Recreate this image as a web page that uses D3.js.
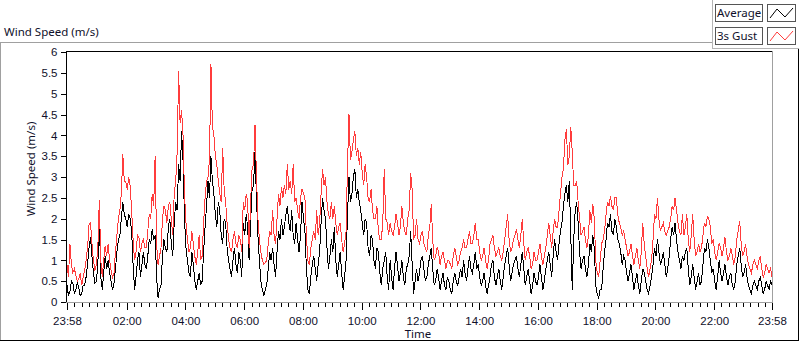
<!DOCTYPE html>
<html>
<head>
<meta charset="utf-8">
<script src="https://cdn.jsdelivr.net/npm/d3@7"></script>
<style>
  body { margin: 0; background: #fff; }
  svg { display: block; font-family: "Noto Sans", "Open Sans", sans-serif; }
  .lbl { font-size: 11.5px; fill: #10102a; }
</style>
</head>
<body>
<svg id="chart" width="800" height="342"></svg>
<script>
// 3-minute samples from 23:58 to 23:58 next day (481 points), one row per hour
var avgSpeed = [
  0.4, 0.15, 0.25, 0.5, 0.45, 0.2, 0.3, 0.45, 0.35, 0.15, 0.2, 0.4, 0.4, 0.6, 0.9, 1.3, 1.55, 1.1, 0.7, 0.45,
  0.5, 0.9, 2.0, 0.6, 0.3, 0.7, 1.1, 0.8, 1.0, 0.7, 0.5, 0.3, 0.45, 0.8, 1.2, 1.5, 1.6, 2.0, 2.4, 2.1,
  2.0, 1.8, 2.1, 2.0, 1.7, 0.9, 0.3, 0.6, 1.0, 1.2, 0.6, 0.9, 1.2, 0.9, 0.8, 1.1, 1.5, 1.4, 1.75, 1.5,
  1.6, 0.6, 0.1, 0.3, 0.4, 1.1, 1.5, 1.3, 1.2, 1.8, 2.0, 1.4, 1.1, 1.9, 2.4, 2.2, 3.3, 2.9, 4.1, 3.4,
  2.0, 1.3, 1.0, 0.7, 0.6, 1.2, 0.9, 0.5, 0.3, 0.5, 0.7, 0.4, 0.5, 1.2, 1.8, 2.3, 2.9, 2.5, 3.5, 2.9,
  2.6, 2.1, 1.8, 2.4, 2.2, 1.6, 1.4, 2.0, 1.9, 1.3, 1.0, 0.8, 0.6, 1.0, 1.3, 0.9, 0.7, 1.2, 1.0, 0.6,
  1.9, 1.6, 2.1, 1.8, 1.0, 1.9, 2.7, 2.8, 3.6, 2.5, 1.6, 1.0, 0.5, 0.3, 0.15, 0.3, 0.4, 0.8, 1.2, 1.0,
  1.3, 0.9, 0.6, 1.2, 1.7, 1.5, 2.0, 1.6, 1.8, 2.1, 2.3, 1.9, 1.7, 2.2, 1.6, 1.4, 1.9, 1.5, 1.2, 1.6,
  2.4, 2.0, 1.7, 0.8, 0.3, 0.2, 0.6, 0.9, 1.1, 0.8, 0.5, 0.9, 1.2, 1.9, 2.5, 2.2, 2.0, 1.3, 0.8, 1.1,
  1.5, 1.2, 1.8, 1.0, 0.6, 0.9, 1.2, 0.7, 0.3, 0.6, 1.0, 2.1, 3.0, 2.4, 2.6, 3.0, 3.2, 2.5, 2.7, 2.4,
  2.2, 1.9, 1.6, 2.0, 1.9, 1.3, 1.1, 1.6, 1.5, 1.0, 0.8, 1.3, 1.2, 0.7, 0.4, 0.8, 1.0, 1.2, 0.6, 0.3,
  1.0, 0.6, 0.3, 0.8, 1.2, 0.9, 0.5, 0.7, 1.0, 0.6, 0.4, 0.8, 0.9, 1.1, 1.7, 0.9, 0.2, 0.5, 0.8, 0.5,
  0.7, 1.0, 1.1, 0.8, 0.5, 0.6, 0.9, 1.1, 1.3, 0.8, 0.4, 0.5, 0.8, 0.6, 0.3, 0.5, 0.7, 0.4, 0.3, 0.6,
  0.5, 0.3, 0.2, 0.5, 0.7, 0.5, 0.4, 0.6, 0.8, 0.6, 1.0, 0.7, 0.5, 0.8, 1.1, 0.8, 0.7, 0.9, 1.2, 0.8,
  0.9, 0.6, 0.4, 0.5, 0.7, 0.4, 0.2, 0.4, 0.6, 0.9, 1.0, 0.6, 0.4, 0.6, 0.8, 0.5, 0.3, 0.6, 0.9, 1.1,
  1.3, 0.9, 0.5, 0.7, 0.9, 1.0, 1.1, 0.8, 0.6, 0.9, 1.2, 0.8, 0.4, 0.6, 0.8, 0.5, 0.2, 0.4, 0.7, 0.5,
  0.4, 0.6, 0.9, 0.6, 0.3, 0.5, 0.8, 1.0, 1.2, 0.9, 0.6, 1.1, 1.5, 1.2, 1.0, 1.4, 1.7, 1.9, 2.3, 2.6,
  2.8, 2.4, 2.9, 1.6, 0.3, 1.5, 2.2, 2.4, 1.9, 1.2, 0.8, 1.0, 1.1, 0.8, 0.6, 0.9, 1.4, 1.2, 1.6, 1.3,
  0.4, 0.2, 0.1, 0.3, 0.3, 0.8, 1.2, 1.5, 1.9, 1.8, 2.1, 1.7, 1.6, 2.0, 1.8, 1.5, 1.4, 1.2, 0.9, 1.1,
  1.0, 0.7, 0.5, 0.7, 0.9, 0.6, 0.3, 0.5, 0.7, 0.4, 0.2, 0.5, 0.8, 0.7, 0.5, 0.3, 0.2, 0.4, 0.6, 0.9,
  1.3, 1.1, 1.5, 1.2, 0.9, 1.0, 1.2, 0.9, 0.6, 0.8, 1.1, 1.5, 1.8, 1.6, 1.9, 1.5, 1.2, 1.0, 0.8, 1.1,
  1.0, 1.2, 1.3, 0.8, 0.4, 0.6, 0.9, 0.6, 0.3, 0.5, 0.7, 0.4, 0.5, 0.9, 1.3, 1.2, 1.5, 1.3, 1.0, 0.7,
  0.8, 0.5, 0.3, 0.6, 1.0, 0.7, 0.5, 0.7, 0.9, 0.6, 0.4, 0.6, 0.7, 0.4, 0.3, 0.5, 0.9, 1.1, 1.3, 0.9,
  0.6, 0.7, 0.9, 0.6, 0.4, 0.3, 0.2, 0.4, 0.5, 0.4, 0.3, 0.5, 0.6, 0.4, 0.2, 0.3, 0.5, 0.4, 0.3, 0.5, 0.4
];
var gustSpeed = [
  0.9, 0.6, 1.4, 0.9, 0.7, 0.8, 0.65, 0.5, 0.55, 0.7, 0.4, 0.6, 0.75, 1.0, 1.3, 1.85, 1.9, 1.4, 1.0, 0.75,
  0.9, 1.3, 2.45, 1.0, 0.6, 1.0, 1.35, 1.1, 1.4, 1.0, 0.75, 0.6, 0.7, 1.2, 1.6, 2.0, 2.2, 2.6, 3.55, 2.9,
  2.9, 2.7, 3.0, 2.8, 2.2, 1.5, 1.0, 1.2, 1.6, 1.55, 1.2, 1.4, 1.5, 1.3, 1.3, 1.7, 2.1, 2.0, 2.6, 2.3,
  3.5, 1.4, 0.9, 1.1, 1.3, 2.0, 2.3, 2.2, 1.9, 2.3, 2.4, 2.0, 1.6, 2.6, 2.9, 3.6, 5.55, 4.3, 4.6, 4.0,
  2.6, 1.9, 1.5, 1.2, 1.3, 1.7, 1.4, 1.1, 0.9, 1.2, 1.6, 1.0, 1.1, 1.9, 2.5, 2.9, 3.0, 3.4, 5.7, 4.2,
  4.0, 3.5, 3.3, 2.9, 2.6, 2.4, 3.7, 2.7, 2.4, 1.9, 1.5, 1.3, 1.2, 1.5, 1.7, 1.4, 1.3, 1.6, 1.5, 1.2,
  2.4, 2.2, 2.6, 2.4, 1.3, 2.4, 3.2, 3.3, 4.25, 3.0, 2.0, 1.5, 1.2, 1.0, 0.9, 0.95, 1.0, 1.4, 1.7, 1.6,
  2.2, 1.6, 1.4, 2.0, 2.6, 2.3, 2.75, 2.5, 2.8, 2.6, 3.3, 2.7, 2.9, 2.6, 3.3, 2.4, 2.5, 2.2, 2.0, 2.5,
  2.7, 2.6, 2.5, 1.6, 1.0, 0.9, 1.3, 1.5, 1.7, 1.5, 2.2, 1.6, 1.9, 2.6, 3.2, 2.8, 3.0, 2.4, 2.1, 2.0,
  2.4, 2.0, 2.3, 1.9, 1.6, 1.8, 1.9, 1.5, 1.2, 1.4, 1.7, 3.3, 4.5, 3.4, 3.6, 3.9, 4.1, 3.5, 3.7, 3.3,
  3.6, 3.1, 2.8, 3.3, 3.0, 2.5, 2.4, 2.7, 2.2, 2.0, 2.0, 2.3, 1.7, 1.5, 1.5, 1.9, 3.2, 2.0, 1.9, 1.6,
  1.9, 1.7, 1.6, 1.8, 2.1, 1.9, 1.6, 1.8, 2.3, 1.9, 1.7, 1.6, 2.0, 2.2, 3.1, 2.7, 1.5, 1.6, 2.0, 1.5,
  1.4, 1.6, 1.7, 1.4, 1.3, 1.2, 1.6, 1.8, 2.35, 1.5, 1.0, 1.1, 1.3, 1.2, 0.9, 1.1, 1.2, 1.0, 0.8, 1.0,
  1.0, 0.9, 0.8, 1.1, 1.3, 1.1, 0.9, 1.0, 1.2, 1.3, 1.5, 1.3, 1.3, 1.5, 1.7, 1.4, 1.4, 1.6, 1.9, 1.5,
  1.5, 1.2, 1.0, 1.1, 1.3, 1.0, 0.8, 1.0, 1.4, 1.5, 1.6, 1.3, 1.1, 1.2, 1.3, 1.1, 1.0, 1.2, 1.5, 1.8,
  2.1, 1.5, 1.2, 1.3, 1.5, 1.6, 1.75, 1.5, 1.3, 1.6, 2.0, 1.4, 1.0, 1.2, 1.3, 1.1, 0.8, 0.9, 1.2, 1.0,
  1.0, 1.2, 1.4, 1.1, 0.9, 1.1, 1.3, 1.6, 1.9, 1.6, 1.3, 1.7, 2.0, 1.8, 1.8, 2.2, 2.6, 3.0, 3.2, 3.9,
  4.15, 3.3, 3.5, 4.2, 3.6, 2.8, 2.8, 2.9, 2.4, 2.0, 1.6, 1.7, 1.8, 1.5, 1.3, 1.6, 2.2, 1.9, 2.35, 2.0,
  1.0, 0.7, 0.6, 1.0, 1.4, 1.5, 1.7, 2.1, 2.4, 2.3, 2.55, 2.3, 2.2, 2.5, 2.5, 2.1, 1.9, 1.8, 1.6, 1.7,
  1.5, 1.3, 1.1, 1.2, 1.4, 1.1, 0.9, 1.1, 1.3, 1.0, 0.8, 1.2, 1.9, 1.4, 1.1, 0.8, 0.6, 0.8, 1.0, 1.5,
  2.1, 2.0, 2.5, 2.0, 1.7, 1.8, 1.9, 1.7, 1.6, 1.7, 1.8, 2.0, 2.3, 2.2, 2.5, 2.2, 1.9, 1.7, 1.6, 2.1,
  1.6, 1.8, 2.1, 1.5, 1.2, 1.6, 2.1, 1.5, 1.1, 1.2, 1.4, 1.2, 1.3, 1.6, 1.9, 1.8, 2.05, 2.0, 1.8, 1.4,
  1.5, 1.2, 1.0, 1.2, 1.4, 1.3, 1.1, 1.3, 1.55, 1.2, 1.0, 1.1, 1.3, 1.1, 0.9, 1.1, 1.5, 1.7, 1.95, 1.4,
  1.1, 1.2, 1.4, 1.1, 0.9, 0.8, 0.7, 0.9, 1.0, 0.9, 0.8, 1.0, 1.1, 0.8, 0.6, 0.7, 0.9, 0.8, 0.7, 0.8, 0.6
];
var yTicks = [0, 0.5, 1, 1.5, 2, 2.5, 3, 3.5, 4, 4.5, 5, 5.5, 6];
var xTickLabels = ["23:58", "02:00", "04:00", "06:00", "08:00", "10:00", "12:00",
                   "14:00", "16:00", "18:00", "20:00", "22:00", "23:58"];
var seriesNames = ["Average", "3s Gust"];
var seriesColors = ["#000", "#ff3c3c"];

var svg = d3.select("#chart");
// plot box (not named top/left: window.top is read-only)
var pL = 66, pR = 772, pT = 52, pB = 302;

var t0 = new Date(2020, 0, 1, 23, 58);
var t1 = new Date(2020, 0, 2, 23, 58);
var times = avgSpeed.map(function (d, i) { return d3.timeMinute.offset(t0, i * 3); });

var x = d3.scaleTime().domain([t0, t1]).range([pL + 1, pR]);
var y = d3.scaleLinear().domain([0, 6]).range([pB, pT]);

// outer frame
svg.append("line").attr("x1", 0).attr("x2", 712).attr("y1", 42.5).attr("y2", 42.5).attr("stroke", "#a0a0a0");
svg.append("line").attr("x1", 0.5).attr("x2", 0.5).attr("y1", 42).attr("y2", 341).attr("stroke", "#a0a0a0");
svg.append("line").attr("x1", 0).attr("x2", 799).attr("y1", 340.5).attr("y2", 340.5).attr("stroke", "#000");
svg.append("line").attr("x1", 798.5).attr("x2", 798.5).attr("y1", 49).attr("y2", 341).attr("stroke", "#000");

// legend panel edges
svg.append("line").attr("x1", 712.5).attr("x2", 712.5).attr("y1", 0).attr("y2", 49).attr("stroke", "#b4b4b4");
svg.append("line").attr("x1", 712).attr("x2", 799).attr("y1", 48.5).attr("y2", 48.5).attr("stroke", "#b4b4b4");

svg.append("text").attr("class", "lbl").attr("x", 4).attr("y", 36).text("Wind Speed (m/s)");

// y axis
var yAxis = d3.axisLeft(y).tickValues(yTicks).tickSize(5).tickPadding(3).tickFormat(d3.format("~g"));
var gy = svg.append("g").attr("transform", "translate(" + (pL - 0.5) + ",0)").call(yAxis);
gy.select(".domain").remove();
gy.selectAll("line").attr("stroke", "#000");
gy.selectAll("text").attr("class", "lbl").attr("font-family", null).attr("font-size", null);

// x axis: major ticks with labels, 7 minor ticks between majors
var majors = [t0];
for (var h = 2; h <= 22; h += 2) majors.push(new Date(2020, 0, 2, h, 0));
majors.push(t1);
var minors = [];
for (var k = 0; k < majors.length - 1; k++) {
  var a = majors[k].getTime(), b = majors[k + 1].getTime();
  for (var m = 1; m < 8; m++) minors.push(new Date(a + (b - a) * m / 8));
}
var gxMinor = svg.append("g").attr("transform", "translate(0," + (pB + 1) + ")")
  .call(d3.axisBottom(x).tickValues(minors).tickSize(4).tickFormat(""));
gxMinor.select(".domain").remove();
var gx = svg.append("g").attr("transform", "translate(0," + (pB + 1) + ")")
  .call(d3.axisBottom(x).tickValues(majors).tickSize(7).tickPadding(7)
    .tickFormat(function (d, i) { return xTickLabels[i]; }));
gx.select(".domain").remove();
svg.selectAll(".tick line").attr("stroke", "#000").attr("shape-rendering", "crispEdges");
gx.selectAll("text").attr("class", "lbl").attr("font-family", null).attr("font-size", null);

svg.append("text").attr("class", "lbl").attr("x", 418).attr("y", 338).attr("text-anchor", "middle").text("Time");
svg.append("text").attr("class", "lbl").attr("transform", "translate(35," + ((pT + pB) / 2 - 8) + ") rotate(-90)")
  .attr("text-anchor", "middle").text("Wind Speed (m/s)");

// series, drawn aliased like the original 1px plot lines
var line = d3.line()
  .x(function (d, i) { return x(times[i]); })
  .y(function (d) { return y(d); });
var plot = svg.append("g");
[avgSpeed, gustSpeed].forEach(function (s, i) {
  plot.append("path").datum(s).attr("d", line)
    .attr("fill", "none").attr("stroke", seriesColors[i]).attr("stroke-width", 1)
    .attr("shape-rendering", "crispEdges");
});

// plot frame
svg.append("line").attr("x1", pL + 0.5).attr("x2", pR).attr("y1", pT - 0.5).attr("y2", pT - 0.5).attr("stroke", "#000");
svg.append("line").attr("x1", pL + 0.5).attr("x2", pL + 0.5).attr("y1", pT - 1).attr("y2", pB + 1).attr("stroke", "#000");
svg.append("line").attr("x1", pR + 0.5).attr("x2", pR + 0.5).attr("y1", pT - 1).attr("y2", pB + 1).attr("stroke", "#a0a0a0");
svg.append("line").attr("x1", pL).attr("x2", pR + 1).attr("y1", pB + 0.5).attr("y2", pB + 0.5).attr("stroke", "#a0a0a0");

// legend
var lg = svg.append("g");
seriesNames.forEach(function (name, i) {
  var yy = 4 + i * 23;
  lg.append("rect").attr("x", 715.5).attr("y", yy + 0.5).attr("width", 47).attr("height", 17)
    .attr("fill", "#fff").attr("stroke", "#555");
  lg.append("text").attr("class", "lbl").attr("x", 717).attr("y", yy + 13).text(name);
  lg.append("rect").attr("x", 767.5).attr("y", yy + 0.5).attr("width", 28).attr("height", 17)
    .attr("fill", "#fff").attr("stroke", "#555");
  lg.append("path").attr("d", "M770," + (yy + 14) + "L777," + (yy + 5) + "L785," + (yy + 13) + "L793," + (yy + 4))
    .attr("fill", "none").attr("stroke", seriesColors[i]);
});
</script>
</body>
</html>
